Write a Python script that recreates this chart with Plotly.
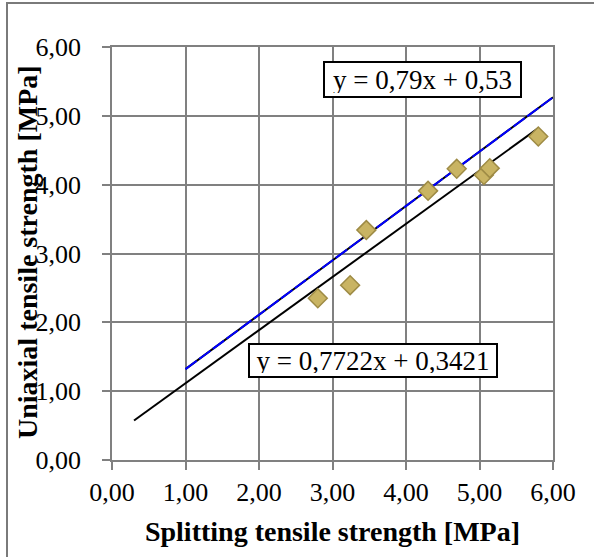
import plotly.graph_objects as go

# ---- data ----
splitting = [2.80, 3.24, 3.46, 4.30, 4.69, 5.06, 5.14, 5.80]
uniaxial = [2.35, 2.54, 3.34, 3.91, 4.23, 4.14, 4.24, 4.70]

# trend lines (slope, intercept, x extent)
fit_black = {"slope": 0.7722, "intercept": 0.3421, "x": [0.30, 5.80]}
fit_blue = {"slope": 0.79, "intercept": 0.53, "x": [1.00, 6.00]}

eq_black = "y = 0,7722x + 0,3421"
eq_blue = "y = 0,79x + 0,53"

tick_vals = [0, 1, 2, 3, 4, 5, 6]
tick_text = ["0,00", "1,00", "2,00", "3,00", "4,00", "5,00", "6,00"]

x_title = "Splitting tensile strength [MPa]"
y_title = "Uniaxial tensile strength [MPa]"

FONT = "Liberation Serif"
GRID = "#808080"

W, H = 594, 557
ML, MR, MT, MB = 112, 41, 47, 97
PW, PH = W - ML - MR, H - MT - MB


def line_y(fit):
    return [fit["slope"] * x + fit["intercept"] for x in fit["x"]]


fig = go.Figure()

fig.add_trace(go.Scatter(
    x=fit_black["x"], y=line_y(fit_black), mode="lines",
    line=dict(color="black", width=2), showlegend=False, hoverinfo="skip"))

# blue trend line drawn as blue dashes over black
fig.add_trace(go.Scatter(
    x=fit_blue["x"], y=line_y(fit_blue), mode="lines",
    line=dict(color="black", width=2), showlegend=False, hoverinfo="skip"))
fig.add_trace(go.Scatter(
    x=fit_blue["x"], y=line_y(fit_blue), mode="lines",
    line=dict(color="#0000FF", width=2, dash="14px,3px"), showlegend=False, hoverinfo="skip"))

fig.add_trace(go.Scatter(
    x=splitting, y=uniaxial, mode="markers",
    marker=dict(symbol="diamond", size=14.5, color="#C9B463",
                line=dict(color="#9E8B45", width=1.5)),
    showlegend=False))

axis_common = dict(
    range=[0, 6], tickvals=tick_vals, ticktext=tick_text,
    showgrid=True, gridcolor=GRID, gridwidth=1.75,
    showline=True, linecolor=GRID, linewidth=1.75, mirror=True,
    ticks="outside", ticklen=8, tickcolor=GRID, tickwidth=1.75,
    zeroline=False, tickfont=dict(family=FONT, size=26, color="black"),
    fixedrange=True,
)

fig.update_xaxes(**axis_common,
                 title=dict(text=f"<b>{x_title}</b>", font=dict(family=FONT, size=28, color="black"),
                            standoff=15))
fig.update_yaxes(**axis_common, ticklabelstandoff=16)

# y-axis title placed as rotated text (it overlaps the tick labels in the original)
fig.add_annotation(text=f"<b>{y_title}</b>", textangle=-90, showarrow=False,
                   xref="paper", yref="paper", x=(28 - ML) / PW, y=(MT + PH - 252) / PH,
                   xanchor="center", yanchor="middle",
                   font=dict(family=FONT, size=28, color="black"))

box = dict(bordercolor="black", borderwidth=2, bgcolor="white", borderpad=3,
           font=dict(family=FONT, size=27, color="black"), showarrow=False,
           xref="x", yref="y")
fig.add_annotation(text=eq_blue, x=4.22, y=5.53, width=189, height=27, **box)
fig.add_annotation(text=eq_black, x=3.55, y=1.45, width=240, height=25, **box)

# outer chart frame (extends beyond the right and bottom edges)
fig.add_shape(type="rect", xref="paper", yref="paper",
              x0=(7 - ML) / PW, x1=(W + 10 - ML) / PW,
              y0=-(H + 10 - (MT + PH)) / PH, y1=(MT + PH - 3) / PH,
              line=dict(color="#7a7a7a", width=2), fillcolor="rgba(0,0,0,0)", layer="below")

fig.update_layout(
    width=W, height=H,
    margin=dict(l=ML, r=MR, t=MT, b=MB, autoexpand=False),
    paper_bgcolor="white", plot_bgcolor="white",
    font=dict(family=FONT, color="black"),
)

fig.write_html("out.html")
